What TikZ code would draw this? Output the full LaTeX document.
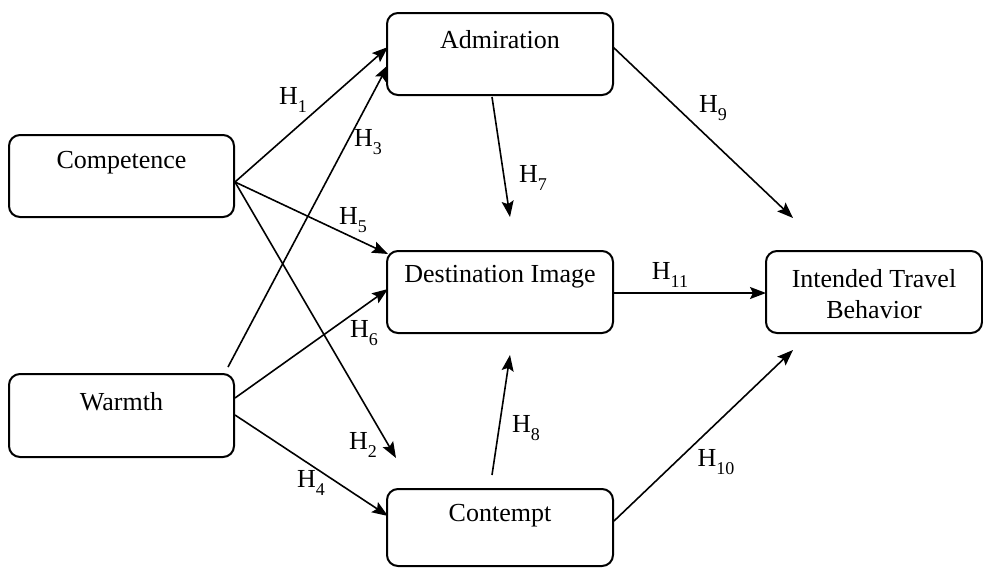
\documentclass[tikz,border=0pt]{standalone}
\usepackage{fontspec}
\setmainfont{Liberation Serif}
\usetikzlibrary{arrows.meta}
\newcommand{\hsub}[1]{H\raisebox{-0.28em}{\fontsize{18}{20}\selectfont #1}}
\begin{document}
\begin{tikzpicture}[x=1pt,y=-1pt,
  box/.style={draw, line width=2pt, rounded corners=11pt, inner sep=0pt},
  txt/.style={font=\fontsize{26}{31}\selectfont, inner sep=0pt, align=center},
  hyp/.style={font=\fontsize{26}{30}\selectfont, inner sep=0pt},
  arr/.style={line width=1.6pt, -{Stealth[length=16pt,width=12pt,inset=3pt]}}]
\useasboundingbox (0,0) rectangle (983,568);
% boxes
\node[box, minimum width=225pt, minimum height=82pt] (comp) at (121.5,176) {};
\node[box, minimum width=225pt, minimum height=83pt] (warm) at (121.5,415.5) {};
\node[box, minimum width=226pt, minimum height=82pt] (adm) at (500,54) {};
\node[box, minimum width=226pt, minimum height=82pt] (dest) at (500,292) {};
\node[box, minimum width=226pt, minimum height=77pt] (cont) at (500,527.5) {};
\node[box, minimum width=216pt, minimum height=82pt] (itb) at (874,292) {};
% texts
\node[txt] (tcomp) at (121.5,163) {Competence};
\node[txt] (twarm) at (121.5,402) {Warmth};
\node[txt] (tadm) at (500,40) {Admiration};
\node[txt] (tdest) at (500,277) {Destination Image};
\node[txt] (tcont) at (500,516) {Contempt};
\node[txt] (titb) at (874,294) {Intended Travel\\Behavior};
% anchor coordinates
\coordinate (cs) at (235,182);
\coordinate (ws3) at (228,367);
\coordinate (ws6) at (235,398);
\coordinate (ws4) at (235,415);
\coordinate (a1) at (388,47);
\coordinate (a3) at (388,65);
\coordinate (d5) at (388,254);
\coordinate (d6) at (388,289);
\coordinate (c4) at (388,516);
\coordinate (h2e) at (396,458);
\coordinate (h7s) at (492,97);
\coordinate (h7e) at (510,217);
\coordinate (h8s) at (492,475);
\coordinate (h8e) at (510,355);
\coordinate (a9) at (613,47);
\coordinate (h9e) at (793,218);
\coordinate (c10) at (614,521);
\coordinate (h10e) at (793,350);
\coordinate (d11) at (613,293);
\coordinate (i11) at (766,293);
% connectors
\draw[arr] (cs) -- (a1);
\draw[arr] (ws3) -- (a3);
\draw[arr] (cs) -- (d5);
\draw[arr] (cs) -- (h2e);
\draw[arr] (ws6) -- (d6);
\draw[arr] (ws4) -- (c4);
\draw[arr] (h7s) -- (h7e);
\draw[arr] (h8s) -- (h8e);
\draw[arr] (a9) -- (h9e);
\draw[arr] (c10) -- (h10e);
\draw[arr] (d11) -- (i11);
% labels
\node[hyp] (l1) at (293,100) {\hsub{1}};
\node[hyp] (l3) at (368,142) {\hsub{3}};
\node[hyp] (l5) at (353,220) {\hsub{5}};
\node[hyp] (l6) at (364,333) {\hsub{6}};
\node[hyp] (l2) at (363,445) {\hsub{2}};
\node[hyp] (l4) at (311,483) {\hsub{4}};
\node[hyp] (l7) at (533,178) {\hsub{7}};
\node[hyp] (l8) at (526,428) {\hsub{8}};
\node[hyp] (l9) at (713,108) {\hsub{9}};
\node[hyp] (l10) at (716,462) {\hsub{10}};
\node[hyp] (l11) at (670,275) {\hsub{11}};
\end{tikzpicture}
\end{document}
